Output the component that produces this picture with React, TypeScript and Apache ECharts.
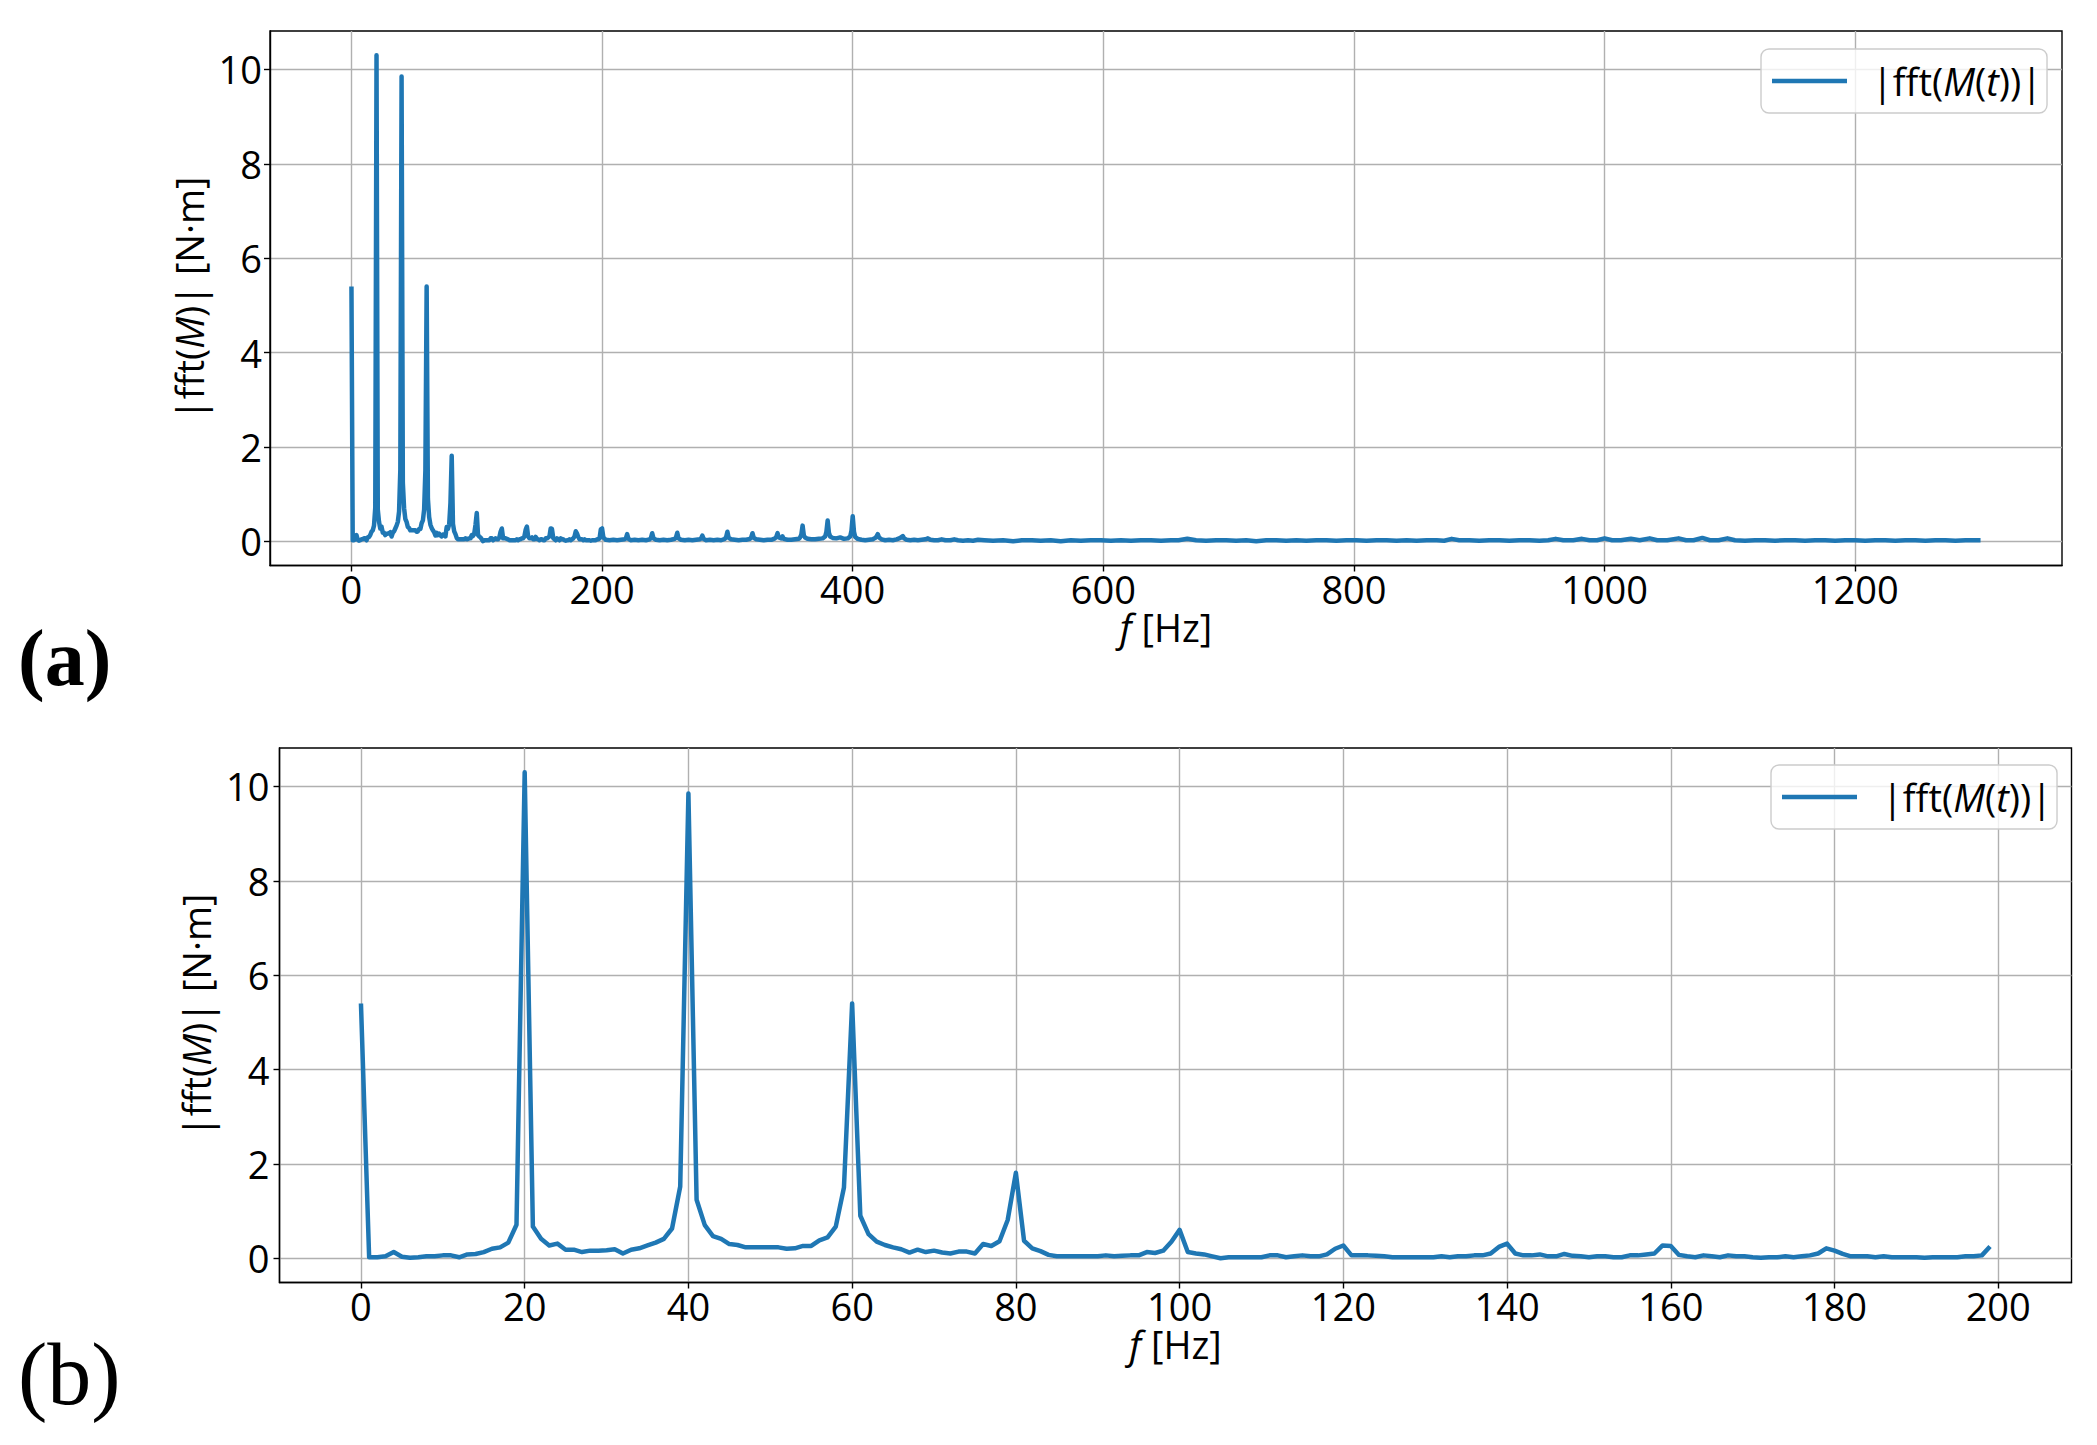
import React, { useEffect, useRef } from "react";
import * as echarts from "echarts";

// |fft(M)| sampled at 1 Hz, 0..199 Hz (panel b, also the start of panel a)
const magsB = [
  5.4, 0.02, 0.02, 0.04, 0.13, 0.03, 0.01, 0.02, 0.04, 0.04,
  0.06, 0.06, 0.02, 0.08, 0.09, 0.13, 0.2, 0.23, 0.33, 0.71,
  10.3, 0.67, 0.41, 0.27, 0.31, 0.18, 0.18, 0.13, 0.16, 0.16,
  0.17, 0.19, 0.1, 0.18, 0.21, 0.27, 0.33, 0.41, 0.63, 1.52,
  9.85, 1.24, 0.7, 0.47, 0.41, 0.3, 0.28, 0.23, 0.23, 0.23,
  0.23, 0.23, 0.2, 0.21, 0.26, 0.26, 0.38, 0.44, 0.67, 1.5,
  5.4, 0.9, 0.51, 0.35, 0.28, 0.23, 0.19, 0.12, 0.18, 0.13,
  0.16, 0.12, 0.1, 0.14, 0.14, 0.1, 0.3, 0.26, 0.36, 0.81,
  1.81, 0.37, 0.21, 0.15, 0.07, 0.04, 0.04, 0.04, 0.04, 0.04,
  0.04, 0.06, 0.04, 0.05, 0.06, 0.06, 0.13, 0.11, 0.16, 0.35,
  0.6, 0.13, 0.1, 0.08, 0.04, 0.0, 0.02, 0.02, 0.02, 0.02,
  0.02, 0.06, 0.06, 0.02, 0.04, 0.06, 0.04, 0.04, 0.08, 0.2,
  0.27, 0.06, 0.06, 0.06, 0.05, 0.04, 0.02, 0.02, 0.02, 0.02,
  0.02, 0.02, 0.04, 0.02, 0.04, 0.04, 0.06, 0.06, 0.1, 0.24,
  0.31, 0.1, 0.06, 0.06, 0.08, 0.04, 0.04, 0.09, 0.05, 0.04,
  0.02, 0.04, 0.04, 0.02, 0.02, 0.06, 0.06, 0.08, 0.1, 0.27,
  0.26, 0.07, 0.04, 0.02, 0.06, 0.04, 0.02, 0.06, 0.04, 0.04,
  0.02, 0.01, 0.02, 0.02, 0.04, 0.02, 0.04, 0.06, 0.1, 0.21,
  0.16, 0.09, 0.04, 0.04, 0.04, 0.02, 0.04, 0.02, 0.02, 0.02,
  0.02, 0.01, 0.02, 0.02, 0.02, 0.02, 0.04, 0.04, 0.06, 0.25,
];

// Rest of the spectrum for panel (a), 200..1300 Hz
const tailFreqs = [
  200, 201, 203, 206, 209, 212, 215, 218, 219, 220, 221, 223, 226, 229, 232, 235, 238, 239,
  240, 241, 243, 246, 249, 252, 255, 258, 259, 260, 261, 263, 266, 269, 272, 275, 278, 279,
  280, 281, 283, 286, 289, 292, 295, 298, 299, 300, 301, 303, 306, 309, 312, 315, 318, 319,
  320, 321, 323, 326, 329, 332, 335, 338, 339, 340, 341, 343, 344, 345, 348, 351, 354, 357,
  358, 359, 360, 361, 362, 364, 367, 370, 373, 376, 378, 379, 380, 381, 382, 384, 387, 390,
  393, 396, 398, 399, 400, 401, 402, 404, 407, 410, 413, 416, 418, 419, 420, 421, 423, 426,
  429, 432, 435, 438, 440, 441, 443, 446, 449, 452, 455, 458, 460, 462, 465, 468, 471, 474,
  478, 481, 484, 488, 492, 496, 500, 505, 512, 520, 528, 535, 543, 550, 558, 566, 574, 582,
  590, 598, 606, 614, 622, 630, 638, 646, 654, 660, 667, 674, 682, 690, 698, 706, 714, 722,
  730, 738, 746, 754, 762, 770, 778, 786, 794, 802, 810, 818, 826, 834, 842, 850, 858, 866,
  872, 878, 884, 892, 900, 908, 916, 924, 932, 940, 948, 955, 961, 967, 975, 982, 988, 994,
  1000, 1006, 1013, 1021, 1028, 1036, 1042, 1050, 1059, 1065, 1071, 1078, 1084, 1091, 1098,
  1104, 1112, 1120, 1128, 1136, 1144, 1152, 1160, 1168, 1176, 1184, 1192, 1200, 1208, 1216,
  1224, 1232, 1240, 1248, 1256, 1264, 1272, 1280, 1288, 1296, 1300,
];
const tailMags = [
  0.27, 0.08, 0.03, 0.02, 0.03, 0.02, 0.03, 0.04, 0.06, 0.15, 0.05, 0.02, 0.03, 0.02, 0.03, 0.02, 0.04, 0.07,
  0.17, 0.06, 0.03, 0.02, 0.03, 0.02, 0.03, 0.05, 0.08, 0.18, 0.06, 0.03, 0.02, 0.03, 0.02, 0.03, 0.04, 0.06,
  0.12, 0.05, 0.02, 0.03, 0.02, 0.03, 0.02, 0.05, 0.09, 0.2, 0.07, 0.04, 0.03, 0.02, 0.03, 0.03, 0.05, 0.08,
  0.17, 0.07, 0.04, 0.03, 0.02, 0.03, 0.03, 0.06, 0.09, 0.17, 0.08, 0.06, 0.1, 0.05, 0.03, 0.03, 0.04, 0.05,
  0.08, 0.14, 0.33, 0.12, 0.08, 0.05, 0.04, 0.04, 0.05, 0.06, 0.1, 0.2, 0.44, 0.18, 0.1, 0.07, 0.06, 0.08,
  0.05, 0.06, 0.1, 0.22, 0.53, 0.2, 0.09, 0.05, 0.03, 0.02, 0.03, 0.04, 0.07, 0.1, 0.15, 0.08, 0.04, 0.02,
  0.03, 0.02, 0.04, 0.07, 0.11, 0.06, 0.03, 0.02, 0.03, 0.02, 0.03, 0.04, 0.06, 0.03, 0.02, 0.02, 0.04, 0.02,
  0.02, 0.04, 0.02, 0.01, 0.02, 0.01, 0.03, 0.02, 0.01, 0.02, 0.0, 0.02, 0.02, 0.01, 0.02, 0.0, 0.02, 0.01,
  0.02, 0.02, 0.01, 0.02, 0.01, 0.02, 0.02, 0.01, 0.02, 0.02, 0.05, 0.02, 0.01, 0.02, 0.02, 0.01, 0.02, 0.0,
  0.02, 0.02, 0.01, 0.02, 0.01, 0.02, 0.02, 0.01, 0.02, 0.02, 0.01, 0.02, 0.02, 0.01, 0.02, 0.01, 0.02, 0.02,
  0.01, 0.05, 0.02, 0.02, 0.01, 0.02, 0.02, 0.01, 0.02, 0.02, 0.01, 0.02, 0.05, 0.02, 0.02, 0.05, 0.02, 0.02,
  0.06, 0.02, 0.02, 0.05, 0.02, 0.06, 0.02, 0.02, 0.06, 0.02, 0.02, 0.07, 0.02, 0.02, 0.06,
  0.02, 0.01, 0.02, 0.02, 0.01, 0.02, 0.02, 0.01, 0.02, 0.02, 0.01, 0.02, 0.02, 0.01, 0.02,
  0.02, 0.01, 0.02, 0.02, 0.01, 0.02, 0.02, 0.01, 0.02, 0.02, 0.02,
];

const xTicksA = [0, 200, 400, 600, 800, 1000, 1200];
const xTicksB = [0, 20, 40, 60, 80, 100, 120, 140, 160, 180, 200];
const yTicks = [0, 2, 4, 6, 8, 10];
const seriesName = "|fft(M(t))|";

const FONT = "'Open Sans', 'DejaVu Sans', sans-serif";
const BLUE = "#1f77b4";

const rich = {
  n: { fontSize: 38, fontFamily: FONT, color: "#000", lineHeight: 30 },
  i: { fontSize: 38, fontFamily: FONT, fontStyle: "italic", color: "#000", lineHeight: 30 },
};

const plain = (v: number) => String(v);

function makeX(gridIndex: number, min: number, max: number, ticks: number[]) {
  return {
    type: "value",
    gridIndex,
    min,
    max,
    axisLine: { show: true, onZero: false, lineStyle: { color: "#000", width: 1.4 } },
    axisTick: {
      show: true,
      inside: false,
      customValues: ticks,
      length: 6,
      lineStyle: { color: "#000", width: 1.4 },
    },
    axisLabel: {
      customValues: ticks,
      formatter: plain,
      margin: 8,
      color: "#000",
      fontSize: 38,
      fontFamily: FONT,
      lineHeight: 30,
    },
    splitLine: { show: true, lineStyle: { color: "#b0b0b0", width: 1.4 } },
    name: "{i|f}{n| [Hz]}",
    nameLocation: "middle",
    nameGap: 39,
    nameTextStyle: { rich, lineHeight: 30 },
  };
}

function makeY(gridIndex: number, margin: number, nameGap: number) {
  return {
    type: "value",
    gridIndex,
    min: -0.515,
    max: 10.815,
    axisLine: { show: true, onZero: false, lineStyle: { color: "#000", width: 1.4 } },
    axisTick: {
      show: true,
      inside: false,
      customValues: yTicks,
      length: 6,
      lineStyle: { color: "#000", width: 1.4 },
    },
    axisLabel: {
      customValues: yTicks,
      formatter: plain,
      margin,
      color: "#000",
      fontSize: 38,
      fontFamily: FONT,
    },
    splitLine: { show: true, lineStyle: { color: "#b0b0b0", width: 1.4 } },
    name: "{n||fft(}{i|M}{n|)| [N·m]}",
    nameLocation: "middle",
    nameRotate: 90,
    nameGap,
    nameTextStyle: { rich, lineHeight: 30 },
  };
}

function makeLegend(left: number, top: number) {
  return {
    left,
    top,
    orient: "vertical",
    selectedMode: false,
    data: [{ name: seriesName, icon: "rect" }],
    itemWidth: 75,
    itemHeight: 4.5,
    padding: [10, 5, 10, 11],
    backgroundColor: "rgba(255,255,255,0.8)",
    borderColor: "#cccccc",
    borderWidth: 1.4,
    borderRadius: 8,
    formatter: () => "{n||fft(}{i|M}{n|(}{i|t}{n|))|}",
    textStyle: {
      fontSize: 38,
      fontFamily: FONT,
      color: "#000",
      lineHeight: 44,
      padding: [0, 0, 0, 20],
      rich: {
        n: { fontSize: 38, fontFamily: FONT, color: "#000", lineHeight: 44 },
        i: { fontSize: 38, fontFamily: FONT, fontStyle: "italic", color: "#000", lineHeight: 44 },
      },
    },
  };
}

export default function App() {
  const ref = useRef<HTMLDivElement>(null);
  useEffect(() => {
    document.body.style.margin = "0";
    const chart = echarts.init(ref.current!, null, { renderer: "svg" });
    const dataB = magsB.map((v, i) => [i, v]);
    const dataA = dataB.concat(tailFreqs.map((f, i) => [f, tailMags[i]]));

    const option: any = {
      animation: false,
      backgroundColor: "#ffffff",
      grid: [
        { left: 270, top: 31, width: 1792, height: 534.5, show: true, borderColor: "#000", borderWidth: 1.4, containLabel: false },
        { left: 279.5, top: 748, width: 1792, height: 534.5, show: true, borderColor: "#000", borderWidth: 1.4, containLabel: false },
      ],
      xAxis: [makeX(0, -65, 1365, xTicksA), makeX(1, -9.95, 208.95, xTicksB)],
      yAxis: [makeY(0, 8, 58), makeY(1, 10, 62)],
      legend: [makeLegend(1761, 49), makeLegend(1771, 765)],
      series: [
        {
          type: "line",
          name: seriesName,
          xAxisIndex: 0,
          yAxisIndex: 0,
          data: dataA,
          showSymbol: false,
          symbol: "none",
          clip: true,
          lineStyle: { color: BLUE, width: 4.5, join: "round" },
          itemStyle: { color: BLUE },
        },
        {
          type: "line",
          name: seriesName,
          xAxisIndex: 1,
          yAxisIndex: 1,
          data: dataB,
          showSymbol: false,
          symbol: "none",
          clip: true,
          lineStyle: { color: BLUE, width: 4.5, join: "round" },
          itemStyle: { color: BLUE },
        },
      ],
      graphic: [
        {
          type: "text",
          x: 18,
          y: 658,
          style: {
            text: "(a)",
            fontSize: 80,
            fontWeight: "bold",
            fontFamily: "'Liberation Serif', 'DejaVu Serif', serif",
            fill: "#000",
            align: "left",
            verticalAlign: "middle",
          },
        },
        {
          type: "text",
          x: 18,
          y: 1374,
          style: {
            text: "(b)",
            fontSize: 88,
            fontFamily: "'Liberation Serif', 'DejaVu Serif', serif",
            fill: "#000",
            align: "left",
            verticalAlign: "middle",
          },
        },
      ],
    };
    chart.setOption(option);
    return () => chart.dispose();
  }, []);
  return <div ref={ref} style={{ width: 2097, height: 1445 }} />;
}
